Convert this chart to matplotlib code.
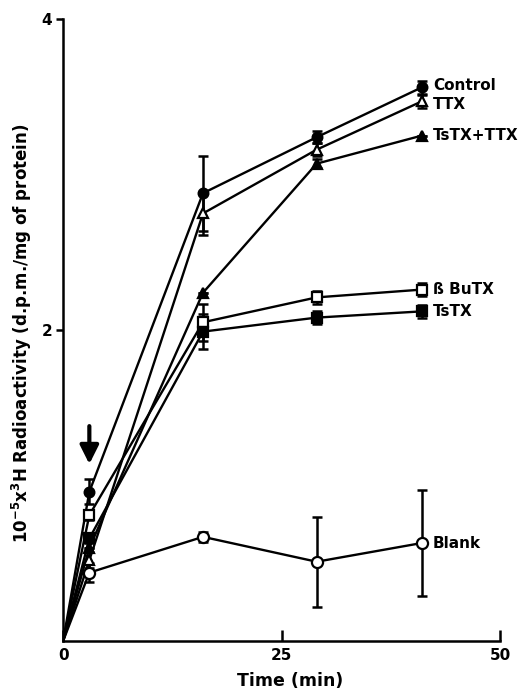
import matplotlib
matplotlib.use('Agg')
import matplotlib.pyplot as plt

plt.rcParams['font.family'] = ['DejaVu Sans']
plt.rcParams['font.weight'] = 'bold'
plt.rcParams['mathtext.fontset'] = 'dejavusans'
plt.rcParams['mathtext.default'] = 'bf'

# time points (min)
t = [0, 3, 16, 29, 41]

control = [0, 0.96, 2.88, 3.24, 3.56]
control_err = [0, 0.08, 0.24, 0.04, 0.04]
ttx = [0, 0.52, 2.75, 3.16, 3.47]
ttx_err = [0, 0.05, 0.14, 0.04, 0.04]
tstx_ttx = [0, 0.60, 2.24, 3.07, 3.25]
tstx_ttx_err = [0, 0, 0, 0.03, 0]
butx = [0, 0.81, 2.05, 2.21, 2.26]
butx_err = [0, 0.03, 0.12, 0.04, 0.04]
tstx = [0, 0.66, 1.99, 2.08, 2.12]
tstx_err = [0, 0.03, 0.11, 0.04, 0.04]
blank = [0, 0.44, 0.67, 0.51, 0.63]
blank_err = [0, 0.06, 0.03, 0.29, 0.34]

names = ["Control", "TTX", "TsTX+TTX", "\u00df BuTX", "TsTX", "Blank"]
label_y = [3.57, 3.45, 3.25, 2.26, 2.12, 0.63]

fig = plt.figure(figsize=(5.26, 6.93), dpi=100)
ax = fig.add_axes([0.120, 0.075, 0.831, 0.8975])

series = [
    (control, control_err, 'o', 'k', 7),
    (ttx, ttx_err, '^', 'w', 7),
    (tstx_ttx, tstx_ttx_err, '^', 'k', 7),
    (butx, butx_err, 's', 'w', 6.5),
    (tstx, tstx_err, 's', 'k', 6.5),
    (blank, blank_err, 'o', 'w', 8),
]

for (y, e, m, fc, ms) in series:
    ax.errorbar(t[1:], y[1:], yerr=e[1:], fmt='none', ecolor='k', elinewidth=1.8,
                capsize=3.5, capthick=1.8, zorder=2)
    ax.plot(t, y, color='k', lw=1.7, zorder=3)
    ax.plot(t[1:], y[1:], linestyle='none', marker=m, markersize=ms,
            markerfacecolor=fc, markeredgecolor='k', markeredgewidth=1.6, zorder=4)

for name, ly in zip(names, label_y):
    ax.text(42.3, ly, name, fontsize=11, fontweight='bold', va='center', ha='left')

# arrow marking toxin addition
ax.annotate('', xy=(3, 1.12), xytext=(3, 1.40),
            arrowprops=dict(arrowstyle='-|>', lw=3, color='k', mutation_scale=28))

ax.set_xlim(0, 50)
ax.set_ylim(0, 4)
ax.spines['top'].set_visible(False)
ax.spines['right'].set_visible(False)
ax.spines['left'].set_linewidth(1.8)
ax.spines['bottom'].set_linewidth(1.8)

ax.set_xticks([0, 25, 50])
ax.set_xticklabels(['0', '25', '50'])
ax.set_yticks([2, 4])
ax.set_yticklabels(['2', '4'])
ax.tick_params(axis='x', direction='in', length=8, width=1.8, labelsize=11, pad=5)
ax.tick_params(axis='y', direction='out', length=5, width=1.8, labelsize=11, pad=3)

fig.text(290 / 526, 1 - 681 / 693, "Time (min)", fontsize=12.5, fontweight='bold',
         ha='center', va='center')
fig.text(22 / 526, 1 - 333 / 693,
         r"10$^{-5}$x$^{3}$H Radioactivity (d.p.m./mg of protein)",
         fontsize=12, fontweight='bold', rotation=90, ha='center', va='center')

fig.savefig('out.png', dpi=100)
